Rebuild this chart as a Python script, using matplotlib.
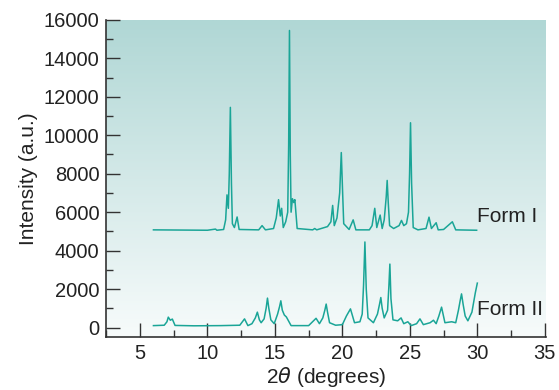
import numpy as np
import matplotlib.pyplot as plt
from matplotlib.colors import LinearSegmentedColormap
from matplotlib.ticker import MultipleLocator

plt.rcParams['font.family'] = ['Liberation Sans', 'DejaVu Sans']

# Form I trace (2theta, intensity)
form1_x = [6.0, 8.0, 10.0, 10.6, 10.7, 11.2, 11.35, 11.45, 11.55, 11.62, 11.7, 11.78,
           11.85, 12.0, 12.2, 12.35, 13.8, 14.05, 14.3, 14.9, 15.1, 15.27, 15.4, 15.5,
           15.62, 15.8, 15.95, 16.02, 16.08, 16.14, 16.2, 16.3, 16.4, 16.48, 16.65, 17.8,
           17.95, 18.1, 18.9, 19.15, 19.28, 19.4, 19.6, 19.8, 19.92, 20.02, 20.1, 20.5,
           20.8, 21.0, 22.0, 22.2, 22.4, 22.55, 22.8, 22.95, 23.1, 23.25, 23.32, 23.4,
           23.5, 23.8, 24.2, 24.38, 24.55, 24.75, 24.9, 24.98, 25.05, 25.13, 25.25, 25.6,
           26.2, 26.42, 26.6, 26.95, 27.1, 27.5, 28.15, 28.4, 29.95]
form1_y = [5080, 5070, 5060, 5120, 5060, 5100, 5600, 6900, 6200, 8000, 11450, 7500,
           5400, 5200, 5750, 5100, 5080, 5300, 5080, 5150, 5700, 6650, 5800, 6200,
           5200, 5500, 6000, 9500, 15450, 9000, 6000, 6700, 6500, 6650, 5150, 5080,
           5150, 5080, 5250, 5500, 6350, 5300, 5700, 7000, 9100, 7000, 5400, 5100,
           5600, 5080, 5080, 5300, 6200, 5200, 5850, 5150, 5600, 6800, 7650, 6500,
           5300, 5150, 5300, 5570, 5300, 5400, 6000, 8000, 10650, 7500, 5200, 5080,
           5150, 5740, 5150, 5450, 5080, 5100, 5500, 5080, 5060]

# Form II trace
form2_x = [6.0, 6.8, 7.0, 7.1, 7.25, 7.4, 7.6, 9.0, 11.0, 12.4, 12.75, 13.0, 13.3,
           13.55, 13.7, 13.85, 13.98, 14.2, 14.35, 14.45, 14.55, 14.7, 14.95, 15.2, 15.35,
           15.44, 15.55, 15.7, 15.85, 16.2, 17.5, 18.05, 18.3, 18.55, 18.7, 18.8, 18.9,
           19.05, 19.5, 20.0, 20.3, 20.6, 20.9, 21.3, 21.47, 21.57, 21.67, 21.77, 21.9,
           22.3, 22.6, 22.75, 22.85, 22.95, 23.1, 23.35, 23.45, 23.52, 23.6, 23.75, 24.1,
           24.35, 24.55, 24.85, 25.1, 25.5, 25.75, 26.0, 26.5, 26.75, 26.95, 27.15, 27.35,
           27.6, 28.1, 28.4, 28.6, 28.73, 28.83, 28.95, 29.1, 29.3, 29.6, 29.85, 30.0]
form2_y = [100, 120, 300, 540, 380, 440, 110, 90, 100, 120, 450, 100, 200,
           500, 800, 400, 250, 450, 1000, 1530, 1000, 400, 200, 700, 1100,
           1390, 900, 650, 550, 100, 100, 480, 200, 500, 900, 1220, 800,
           250, 120, 150, 600, 970, 250, 300, 700, 2200, 4450, 2000, 500,
           250, 700, 1200, 1560, 1000, 500, 900, 2200, 3300, 1500, 400, 350,
           500, 200, 300, 100, 200, 450, 150, 250, 380, 200, 600, 1060,
           250, 300, 250, 900, 1400, 1750, 1200, 600, 350, 800, 1800, 2310]

teal = '#1aa597'

fig = plt.figure(figsize=(5.59, 3.9), dpi=100)
ax = fig.add_axes([0.19, 0.137, 0.787, 0.812])

# background gradient
cmap = LinearSegmentedColormap.from_list('bg', ['#f7fbfb', '#b0d7d5'])
grad = np.linspace(0, 1, 256).reshape(-1, 1)
ax.imshow(grad, aspect='auto', cmap=cmap, origin='lower',
          extent=[0, 1, 0, 1], transform=ax.transAxes, zorder=0)

ax.plot(form1_x, form1_y, color=teal, lw=1.1, zorder=2)
ax.plot(form2_x, form2_y, color=teal, lw=1.1, zorder=2)

ax.text(30.0, 5780, 'Form I', fontsize=15, color='#222222', va='center')
ax.text(30.0, 920, 'Form II', fontsize=15, color='#222222', va='center')

ax.set_xlim(2.5, 35.1)
ax.set_ylim(-470, 16000)
ax.xaxis.set_major_locator(MultipleLocator(5))
ax.xaxis.set_minor_locator(MultipleLocator(2.5))
ax.yaxis.set_major_locator(MultipleLocator(2000))
ax.yaxis.set_minor_locator(MultipleLocator(1000))
ax.tick_params(which='major', direction='in', length=10, width=1, color='#333333',
               labelsize=14.5, labelcolor='#222222', pad=5)
ax.tick_params(which='minor', direction='in', length=5, width=1, color='#333333')

for s in ['top', 'right']:
    ax.spines[s].set_visible(False)
for s in ['left', 'bottom']:
    ax.spines[s].set_color('#333333')
    ax.spines[s].set_linewidth(1.2)

ax.set_xlabel(r'2$\theta$ (degrees)', fontsize=15, color='#222222', labelpad=2)
ax.set_ylabel('Intensity (a.u.)', fontsize=15, color='#222222', labelpad=4)

fig.savefig('out.png', dpi=100)
